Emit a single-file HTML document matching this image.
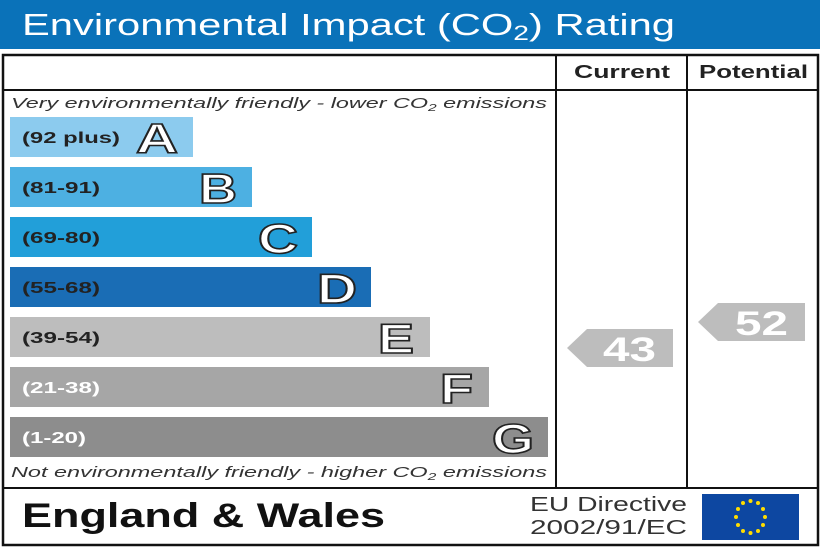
<!DOCTYPE html>
<html><head><meta charset="utf-8"><style>html,body{margin:0;padding:0;background:#fff}svg{display:block}</style></head>
<body>
<svg width="820" height="547" viewBox="0 0 820 547" font-family="Liberation Sans, Arial, sans-serif">
<rect x="0" y="0" width="820" height="49" fill="#0a72b9"/>
<text x="22" y="35" font-size="31" fill="#fff" textLength="653" lengthAdjust="spacingAndGlyphs">Environmental Impact (CO<tspan font-size="21" dy="5">2</tspan><tspan dy="-5">) Rating</tspan></text>
<rect x="3" y="55" width="815" height="490" fill="#fff" stroke="#111" stroke-width="2.5"/>
<line x1="3" y1="90" x2="818" y2="90" stroke="#111" stroke-width="2"/>
<line x1="556" y1="55" x2="556" y2="488" stroke="#111" stroke-width="2"/>
<line x1="687" y1="55" x2="687" y2="488" stroke="#111" stroke-width="2"/>
<line x1="3" y1="488" x2="818" y2="488" stroke="#111" stroke-width="2"/>
<text x="574" y="78" font-size="18" font-weight="bold" fill="#222" textLength="96" lengthAdjust="spacingAndGlyphs">Current</text>
<text x="699" y="78" font-size="18" font-weight="bold" fill="#222" textLength="109" lengthAdjust="spacingAndGlyphs">Potential</text>
<text x="11" y="108" font-size="15" font-style="italic" fill="#333" textLength="536" lengthAdjust="spacingAndGlyphs">Very environmentally friendly - lower CO<tspan font-size="10" dy="3">2</tspan><tspan dy="-3"> emissions</tspan></text>
<text x="11" y="477" font-size="15" font-style="italic" fill="#333" textLength="536" lengthAdjust="spacingAndGlyphs">Not environmentally friendly - higher CO<tspan font-size="10" dy="3">2</tspan><tspan dy="-3"> emissions</tspan></text>
<g font-weight="bold">
<rect x="10" y="117" width="183" height="40" fill="#8ccbee"/><text x="22" y="143" font-size="16" fill="#222" textLength="98" lengthAdjust="spacingAndGlyphs">(92 plus)</text><text x="136" y="153" font-size="42" fill="#fff" stroke="#222" stroke-width="1.6" textLength="42" lengthAdjust="spacingAndGlyphs">A</text>
<rect x="10" y="167" width="242" height="40" fill="#4db0e2"/><text x="22" y="193" font-size="16" fill="#222" textLength="78" lengthAdjust="spacingAndGlyphs">(81-91)</text><text x="199" y="203" font-size="42" fill="#fff" stroke="#222" stroke-width="1.6" textLength="38" lengthAdjust="spacingAndGlyphs">B</text>
<rect x="10" y="217" width="302" height="40" fill="#229fd9"/><text x="22" y="243" font-size="16" fill="#222" textLength="78" lengthAdjust="spacingAndGlyphs">(69-80)</text><text x="258" y="253" font-size="42" fill="#fff" stroke="#222" stroke-width="1.6" textLength="40" lengthAdjust="spacingAndGlyphs">C</text>
<rect x="10" y="267" width="361" height="40" fill="#1a6db5"/><text x="22" y="293" font-size="16" fill="#222" textLength="78" lengthAdjust="spacingAndGlyphs">(55-68)</text><text x="317" y="303" font-size="42" fill="#fff" stroke="#222" stroke-width="1.6" textLength="40" lengthAdjust="spacingAndGlyphs">D</text>
<rect x="10" y="317" width="420" height="40" fill="#bdbdbd"/><text x="22" y="343" font-size="16" fill="#222" textLength="78" lengthAdjust="spacingAndGlyphs">(39-54)</text><text x="378" y="353" font-size="42" fill="#fff" stroke="#222" stroke-width="1.6" textLength="36" lengthAdjust="spacingAndGlyphs">E</text>
<rect x="10" y="367" width="479" height="40" fill="#a6a6a6"/><text x="22" y="393" font-size="16" fill="#fff" textLength="78" lengthAdjust="spacingAndGlyphs">(21-38)</text><text x="440" y="403" font-size="42" fill="#fff" stroke="#222" stroke-width="1.6" textLength="33" lengthAdjust="spacingAndGlyphs">F</text>
<rect x="10" y="417" width="538" height="40" fill="#8d8d8d"/><text x="22" y="443" font-size="16" fill="#fff" textLength="64" lengthAdjust="spacingAndGlyphs">(1-20)</text><text x="492" y="453" font-size="42" fill="#fff" stroke="#222" stroke-width="1.6" textLength="42" lengthAdjust="spacingAndGlyphs">G</text>
<polygon points="567,348 587,329 673,329 673,367 587,367" fill="#bdbdbd"/><text x="603" y="361" font-size="34" fill="#fff" textLength="53" lengthAdjust="spacingAndGlyphs">43</text>
<polygon points="698,322 718,303 805,303 805,341 718,341" fill="#bdbdbd"/><text x="735" y="335" font-size="34" fill="#fff" textLength="53" lengthAdjust="spacingAndGlyphs">52</text>
</g>
<text x="22" y="527" font-size="34" font-weight="bold" fill="#111" textLength="363" lengthAdjust="spacingAndGlyphs">England &amp; Wales</text>
<text x="530" y="511" font-size="20" fill="#333" textLength="157" lengthAdjust="spacingAndGlyphs">EU Directive</text>
<text x="530" y="534" font-size="20" fill="#333" textLength="157" lengthAdjust="spacingAndGlyphs">2002/91/EC</text>
<rect x="702" y="494" width="97" height="46" fill="#0d47a1"/>
<g fill="#ffdd00">
<circle cx="750.5" cy="501" r="2"/><circle cx="758" cy="503" r="2"/><circle cx="763" cy="509" r="2"/><circle cx="765" cy="517" r="2"/><circle cx="763" cy="525" r="2"/><circle cx="758" cy="531" r="2"/><circle cx="750.5" cy="533" r="2"/><circle cx="743" cy="531" r="2"/><circle cx="738" cy="525" r="2"/><circle cx="736" cy="517" r="2"/><circle cx="738" cy="509" r="2"/><circle cx="743" cy="503" r="2"/>
</g>
</svg>
</body></html>
